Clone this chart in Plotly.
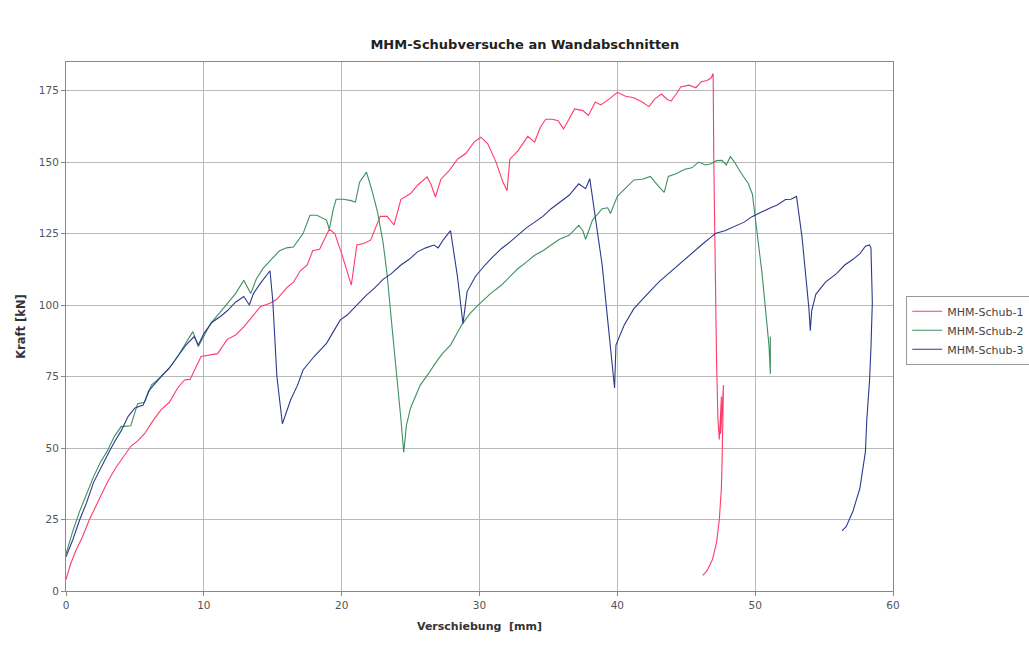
import plotly.graph_objects as go

# MHM-Schub-1 (red)
s1_x = [0, 0.3, 0.7, 1.2, 1.7, 2.3, 3.0, 3.6, 4.2, 4.7, 5.2, 5.7, 6.3, 6.9, 7.5, 8.1, 8.6, 9.0, 9.8, 10.4,
        11.0, 11.7, 12.3, 12.9, 13.5, 14.1, 14.8, 15.3, 16.0, 16.5, 17.0, 17.5, 17.9, 18.4, 19.1, 19.5, 20.0,
        20.4, 20.7, 21.1, 21.6, 22.1, 22.8, 23.3, 23.8, 24.3, 25.0, 25.5, 26.2, 26.5, 26.8, 27.2, 27.8, 28.4,
        29.0, 29.6, 30.1, 30.6, 31.2, 31.7, 32.0, 32.2, 32.8, 33.5, 34.0, 34.4, 34.8, 35.3, 35.7, 36.1, 36.5,
        36.9, 37.5, 37.9, 38.4, 38.8, 39.4, 40.0, 40.6, 41.2, 41.8, 42.3, 42.7, 43.2, 43.6, 43.9, 44.3, 44.6,
        45.2, 45.7, 46.1, 46.5, 46.8, 46.95, 47.0, 47.1, 47.2, 47.3, 47.4, 47.55, 47.5, 47.7, 47.65, 47.6,
        47.55, 47.4, 47.2, 46.9, 46.5, 46.2]
s1_y = [4, 9, 14, 19, 25, 31, 38, 43, 47, 50.6, 52.5, 55, 59.5, 63.4, 66, 71, 73.8, 74, 82, 82.5,
        83, 88, 89.5, 92.4, 96, 99.4, 100.6, 102, 106, 108, 112, 114, 119, 119.5, 126.5, 125, 118,
        112, 107, 121, 121.5, 122.7, 131, 131, 128, 137, 139, 141.9, 144.8, 142, 137.8, 144, 147, 151,
        153, 157, 158.7, 156.4, 150, 143, 140, 151, 154, 159, 157, 162, 165, 165, 164.5, 161.6, 165,
        168.6, 168, 166.3, 171, 170, 172, 174.4, 173, 172.5, 171, 169.4, 172, 173.8, 172, 171.3, 174, 176.3,
        176.9, 176, 178.1, 178.5, 179.4, 181, 150, 110, 80, 60, 53, 68, 55, 72, 52, 45,
        36, 25, 17, 11, 7, 5.5]

# MHM-Schub-2 (green)
s2_x = [0, 0.5, 1, 1.5, 2, 2.5, 3, 3.5, 4, 4.7, 5.2, 5.7, 6.2, 6.9, 7.5, 8.1, 8.6, 9.2, 9.6, 10.0,
        10.5, 11.1, 11.7, 12.3, 12.9, 13.4, 13.8, 14.3, 14.9, 15.5, 16.0, 16.5, 17.2, 17.7, 18.2, 18.9,
        19.1, 19.4, 19.6, 20.1, 20.6, 21.0, 21.3, 21.8, 22.2, 22.6, 23.0, 23.3, 23.7, 24.0, 24.3, 24.5,
        24.7, 25.0, 25.7, 26.3, 26.7, 27.3, 27.9, 28.7, 29.3, 29.9, 30.8, 31.6, 32.2, 32.8, 33.4, 34.0,
        34.6, 35.2, 35.8, 36.5, 37.2, 37.5, 37.7, 38.2, 38.9, 39.3, 39.5, 40.0, 40.6, 41.2, 41.8, 42.4,
        42.9, 43.4, 43.7, 44.3, 44.9, 45.4, 45.9, 46.4, 46.8, 47.2, 47.6, 47.9, 48.2, 48.5, 49.0, 49.5,
        49.8, 50.0, 50.5, 51.0, 51.1, 51.1]
s2_y = [13, 21, 28, 34, 40, 45, 49, 54, 57.5, 57.8, 65.5, 66, 72, 75, 78, 82, 86, 90.7, 85.5, 89,
        93.6, 97, 100.6, 104, 108.7, 104, 109, 112.8, 116, 119, 120, 120.3, 125, 131.4, 131.4, 129.7,
        126.5, 133.7, 137, 137, 136.6, 136, 143, 146.5, 140, 132.6, 122, 110.5, 90, 75.6, 60, 48.5,
        58, 64, 72, 76, 79, 83, 86, 93, 97, 100, 104, 107, 110, 112.8, 115, 117.4,
        119, 121, 123, 124.4, 127.9, 126, 123, 129.7, 133.7, 134, 132, 138, 141, 143.75, 144, 145,
        142, 139.4, 145, 146, 147.5, 148, 150, 149, 149.4, 150.5, 150.6, 149, 151.9, 150, 146, 142.5,
        138.75, 131, 111, 86, 76, 89]

# MHM-Schub-3 (blue)
s3_x = [0, 0.5, 1, 1.5, 2, 2.5, 3, 3.5, 4, 4.5, 5, 5.6, 6, 6.9, 7.5, 8.1, 8.7, 9.3, 9.6, 10, 10.6,
        11.2, 11.7, 12.3, 12.9, 13.3, 13.6, 14.1, 14.5, 14.8, 15.0, 15.3, 15.7, 16.0, 16.3, 16.8, 17.2,
        18.0, 18.9, 19.4, 19.9, 20.4, 21.1, 21.8, 22.4, 23.0, 23.6, 24.3, 24.9, 25.5, 26.1, 26.7, 27.0,
        27.4, 27.9, 28.1, 28.4, 28.8, 29.1, 29.7, 30.4, 31.0, 31.6, 32.2, 32.8, 33.4, 34.0, 34.6, 35.2,
        35.8, 36.5, 37.2, 37.7, 38.0, 38.4, 38.9, 39.4, 39.8, 39.9, 40.5, 41.2, 41.8, 42.4, 43.0, 43.7,
        44.3, 44.9, 45.5, 46.1, 46.8, 47.1, 47.8, 48.5, 49.2, 49.8, 50.4, 51.0, 51.6, 52.2, 52.6, 53.0,
        53.4, 53.7, 53.9, 54.0, 54.1, 54.4, 55.1, 55.9, 56.5, 57.1, 57.6, 58.0, 58.3, 58.4, 58.5, 58.4,
        58.3, 58.1, 58.0, 57.6, 57.1, 56.6, 56.3]
s3_y = [12, 18, 25, 31, 38, 43, 47.5, 52, 56, 61, 64, 65, 70, 75, 78, 82, 86, 89, 86, 90, 94,
        96, 98, 101, 103, 100, 104, 107.6, 110, 112, 101.7, 75, 58.5, 63, 66.9, 72, 77.3,
        82, 86.6, 90.7, 94.8, 96.5, 100, 103.5, 106, 109, 111, 114, 116, 118.6, 120, 121, 120,
        123, 126, 120, 110, 93.5, 104.7, 110, 114, 117, 119.8, 122, 124.4, 127, 129, 131, 133.7,
        136, 138.4, 142.4, 140.7, 144.2, 130, 114, 90, 71, 86, 93, 98.75, 102, 105, 108, 111,
        113.5, 116, 118.5, 121, 123.75, 125, 126, 127.5, 129, 131, 132.5, 133.75, 135, 136.9, 137, 138,
        123.75, 110, 98.75, 91, 98, 103.75, 108, 111, 114, 116, 118, 120.6, 121, 120, 101, 85,
        73.75, 60, 48.75, 36, 28, 22.5, 21]

series_names = ["MHM-Schub-1", "MHM-Schub-2", "MHM-Schub-3"]
series_colors = ["#ff3b6b", "#3d9160", "#2c3a8e"]
x_ticks = [0, 10, 20, 30, 40, 50, 60]
y_ticks = [0, 25, 50, 75, 100, 125, 150, 175]

font = "DejaVu Sans, Verdana, sans-serif"

fig = go.Figure()
for name, xs, ys, c in zip(series_names, [s1_x, s2_x, s3_x], [s1_y, s2_y, s3_y], series_colors):
    fig.add_trace(go.Scatter(x=xs, y=ys, mode="lines", name=name,
                             line=dict(color=c, width=1.1)))

fig.update_layout(
    width=1029, height=648,
    margin=dict(l=66, r=136, t=62, b=57, autoexpand=False),
    paper_bgcolor="white", plot_bgcolor="white",
    title=dict(text="<b>MHM-Schubversuche an Wandabschnitten</b>", x=0.51, xanchor="center",
               y=1 - 44 / 648, yanchor="middle", font=dict(family=font, size=13, color="#222")),
    legend=dict(x=1.016, xanchor="left", y=0.558, yanchor="top",
                bgcolor="white", bordercolor="#999", borderwidth=1,
                font=dict(family=font, size=11, color="#444"), tracegroupgap=0,
                itemwidth=30),
    font=dict(family=font, size=11, color="#444"),
)
fig.update_xaxes(range=[0, 60], tickvals=x_ticks, showgrid=True, gridcolor="#b8b8b8", gridwidth=1,
                 showline=True, linecolor="#888", mirror=True, ticks="outside", ticklen=4,
                 tickcolor="#888", zeroline=False,
                 title=dict(text="<b>Verschiebung  [mm]</b>", font=dict(family=font, size=11, color="#333"),
                            standoff=12),
                 tickfont=dict(family=font, size=10.5, color="#555"))
fig.update_yaxes(range=[0, 185], tickvals=y_ticks, showgrid=True, gridcolor="#b8b8b8", gridwidth=1,
                 showline=True, linecolor="#888", mirror=True, ticks="outside", ticklen=4,
                 tickcolor="#888", zeroline=False,
                 title=dict(text="<b>Kraft [kN]</b>", font=dict(family=font, size=11.5, color="#333"),
                            standoff=10),
                 tickfont=dict(family=font, size=10.5, color="#555"))

fig.write_html("out.html")
